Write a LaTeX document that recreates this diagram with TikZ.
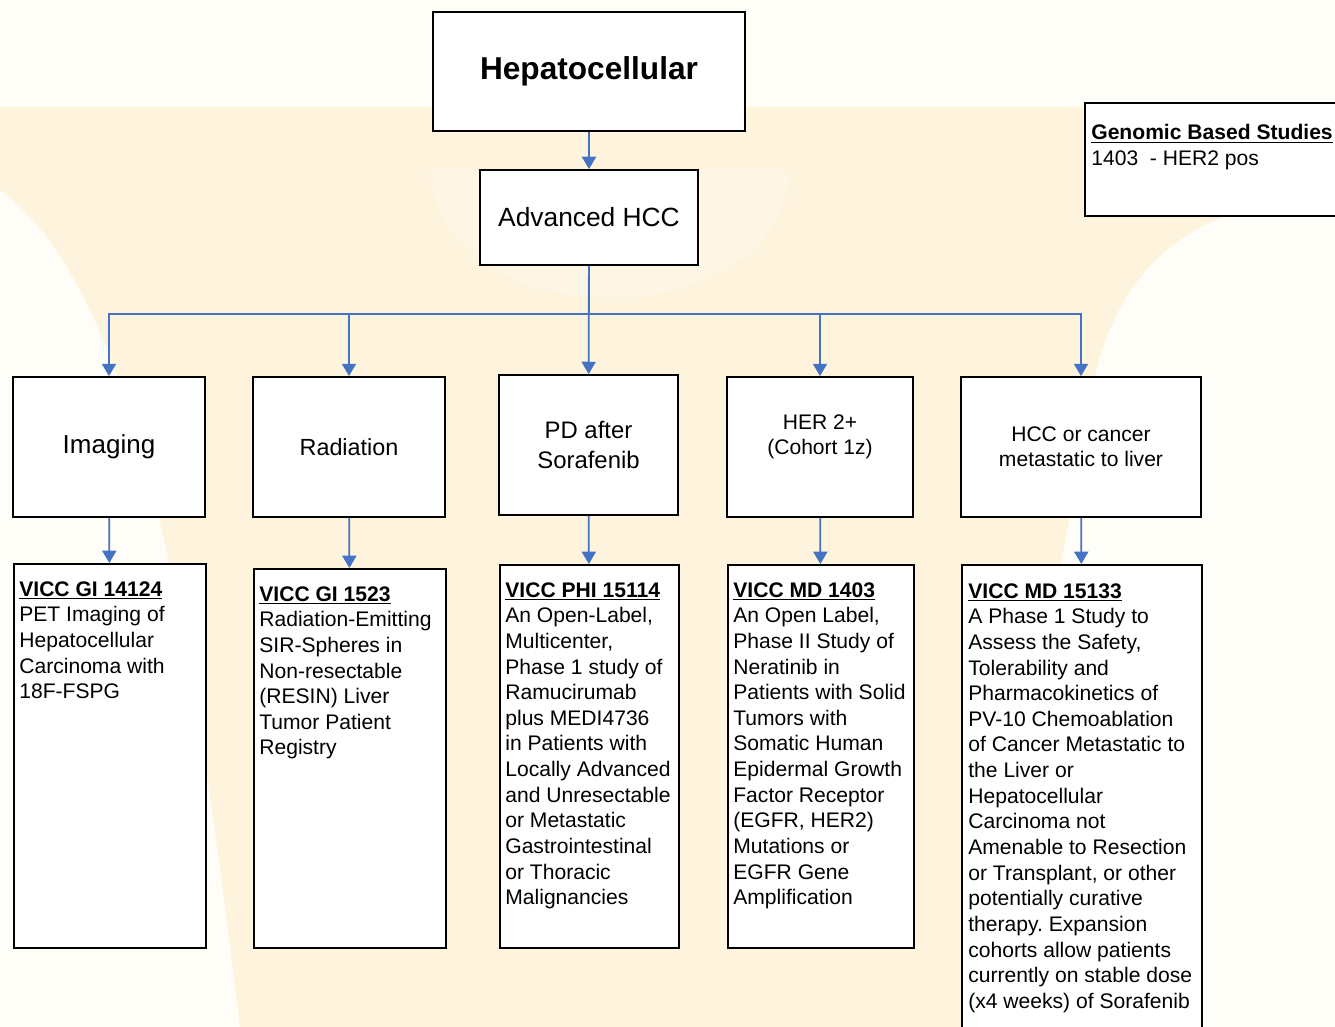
\documentclass[tikz,border=0pt]{standalone}
\usepackage{fontspec}
\setmainfont{Liberation Sans}
\usetikzlibrary{arrows.meta,positioning,calc}
\definecolor{linkblue}{RGB}{68,114,196}
\definecolor{paper}{RGB}{255,253,247}
\definecolor{cream}{RGB}{254,244,222}
\frenchspacing

\tikzset{
  box/.style={draw=black, line width=1.1pt, fill=white, inner sep=0pt, align=center},
  link/.style={draw=linkblue, line width=1pt},
  arr/.style={link, -{Triangle[width=8pt,length=7pt]}},
  bodytxt/.style={anchor=north west, inner sep=0pt, align=left, font=\fontsize{12}{14.6}\selectfont},
}

\begin{document}
\begin{tikzpicture}[x=0.02cm, y=-0.02cm]
\useasboundingbox (0,0) rectangle (1335,1027);
\clip (0,0) rectangle (1335,1027);

% faint watermark behind the chart
\fill[paper] (0,0) rectangle (1335,1027);
\fill[cream] (0,107) -- (1335,107) -- (1335,195)
  .. controls (1180,200) and (1110,280) .. (1090,400)
  .. controls (1060,600) and (1000,800) .. (990,1027) -- (240,1027)
  .. controls (200,700) and (150,300) .. (0,190) -- cycle;
\fill[paper, opacity=0.3] (430,170) .. controls (440,340) and (780,340) .. (790,170) -- cycle;

% top of the tree
\node[box, minimum width=6.24cm, minimum height=2.38cm, font=\fontsize{18}{22}\selectfont\bfseries] (hep) at (589,71.5) {Hepatocellular};
\node[box, minimum width=4.36cm, minimum height=1.9cm, font=\fontsize{15}{18}\selectfont] (adv) at (589,217.5) {Advanced HCC};

\node[box, minimum width=5.22cm, minimum height=2.26cm, anchor=north west] (gen) at (1084,102) {};
\node[bodytxt] (gentxt) at ([shift={(7,22)}]gen.north west) {\underline{\textbf{Genomic Based Studies}}\\1403\ \ - HER2 pos};

% groups
\node[box, minimum width=3.84cm, minimum height=2.8cm, font=\fontsize{14.8}{18}\selectfont] (img) at (109,447) {Imaging};
\node[box, minimum width=3.84cm, minimum height=2.8cm, font=\fontsize{13.3}{16}\selectfont] (rad) at (349,447) {Radiation};
\node[box, minimum width=3.58cm, minimum height=2.8cm, font=\fontsize{13.6}{17}\selectfont] (pd) at (588.5,445) {PD after\\Sorafenib};
\node[box, minimum width=3.72cm, minimum height=2.8cm] (her) at (820,447) {};
\node[align=center, inner sep=0pt, font=\fontsize{12}{14.3}\selectfont] (hertxt) at ([yshift=0.2cm]her.center) {HER 2+\\(Cohort 1z)};
\node[box, minimum width=4.8cm, minimum height=2.8cm, font=\fontsize{12}{14.3}\selectfont] (hcc) at (1081,447) {HCC or cancer\\metastatic to liver};

% studies
\node[box, minimum width=3.84cm, minimum height=7.68cm, anchor=north west] (b1) at (13,563) {};
\node[box, minimum width=3.84cm, minimum height=7.58cm, anchor=north west] (b2) at (253,568) {};
\node[box, minimum width=3.58cm, minimum height=7.66cm, anchor=north west] (b3) at (499,564) {};
\node[box, minimum width=3.72cm, minimum height=7.66cm, anchor=north west] (b4) at (727,564) {};
\node[box, minimum width=4.8cm, minimum height=9.6cm, anchor=north west] (b5) at (961,564) {};

\node[bodytxt] (t1) at ([shift={(6,18)}]b1.north west) {\underline{\textbf{VICC GI 14124}}\\PET Imaging of\\Hepatocellular\\Carcinoma with\\18F-FSPG};
\node[bodytxt] (t2) at ([shift={(6,18)}]b2.north west) {\underline{\textbf{VICC GI 1523}}\\Radiation-Emitting\\SIR-Spheres in\\Non-resectable\\(RESIN) Liver\\Tumor Patient\\Registry};
\node[bodytxt] (t3) at ([shift={(6,18)}]b3.north west) {\underline{\textbf{VICC PHI 15114}}\\An Open-Label,\\Multicenter,\\Phase 1 study of\\Ramucirumab\\plus MEDI4736\\in Patients with\\Locally Advanced\\and Unresectable\\or Metastatic\\Gastrointestinal\\or Thoracic\\Malignancies};
\node[bodytxt] (t4) at ([shift={(6,18)}]b4.north west) {\underline{\textbf{VICC MD 1403}}\\An Open Label,\\Phase II Study of\\Neratinib in\\Patients with Solid\\Tumors with\\Somatic Human\\Epidermal Growth\\Factor Receptor\\(EGFR, HER2)\\Mutations or\\EGFR Gene\\Amplification};
\node[bodytxt] (t5) at ([shift={(7,19)}]b5.north west) {\underline{\textbf{VICC MD 15133}}\\A Phase 1 Study to\\Assess the Safety,\\Tolerability and\\Pharmacokinetics of\\PV-10 Chemoablation\\of Cancer Metastatic to\\the Liver or\\Hepatocellular\\Carcinoma not\\Amenable to Resection\\or Transplant, or other\\potentially curative\\therapy. Expansion\\cohorts allow patients\\currently on stable dose\\(x4 weeks) of Sorafenib};

% connectors
\draw[arr] (hep) -- (adv);
\draw[arr] (adv) -- (pd);
\foreach \n in {img,rad,her,hcc}
  \draw[arr] (adv.south) -- ++(0,48) -| (\n.north);
\foreach \a/\b in {img/b1, rad/b2, pd/b3, her/b4, hcc/b5}
  \draw[arr] (\a) -- (\b);
\end{tikzpicture}
\end{document}
